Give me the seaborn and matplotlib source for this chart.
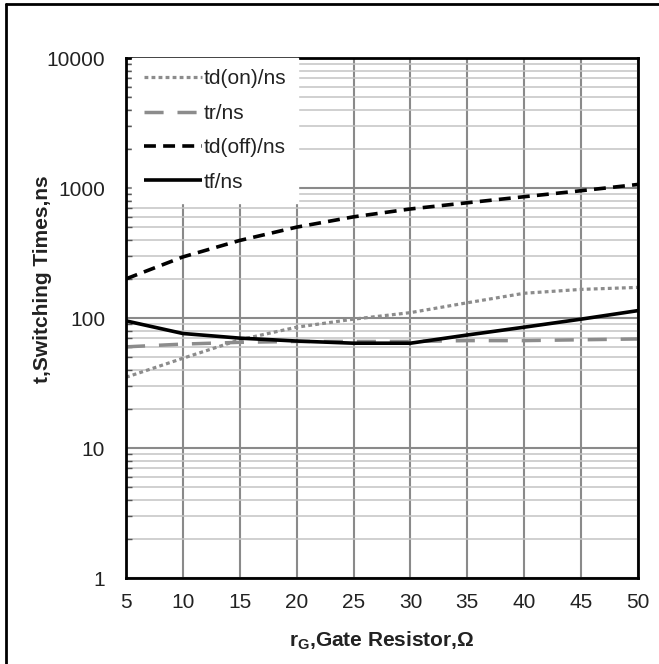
import numpy as np
import pandas as pd
import matplotlib
matplotlib.use("Agg")
import matplotlib.pyplot as plt
from matplotlib.lines import Line2D
from matplotlib.ticker import LogLocator, FixedLocator, NullFormatter
import seaborn as sns

# Switching times versus gate resistance
r_g = [5, 10, 15, 20, 25, 30, 35, 40, 45, 50]
td_on = [35, 49, 68, 85, 98, 110, 131, 155, 166, 172]
t_r = [60, 63, 65, 66, 66, 66, 67, 67, 68, 69]
td_off = [200, 295, 395, 500, 600, 690, 770, 857, 953, 1065]
t_f = [95, 76, 70, 66.5, 64, 64, 74, 85, 98, 114]

series_names = ["td(on)/ns", "tr/ns", "td(off)/ns", "tf/ns"]
series_values = [td_on, t_r, td_off, t_f]

x_ticks = [5, 10, 15, 20, 25, 30, 35, 40, 45, 50]
y_ticks = [1, 10, 100, 1000, 10000]
y_tick_labels = ["1", "10", "100", "1000", "10000"]

sns.set_style("white")
plt.rcParams["font.family"] = ["Liberation Sans", "DejaVu Sans"]
plt.rcParams["mathtext.fontset"] = "custom"
plt.rcParams["mathtext.rm"] = "Liberation Sans"
plt.rcParams["mathtext.bf"] = "Liberation Sans:bold"

fig = plt.figure(figsize=(6.59, 6.64), dpi=100)
ax = fig.add_axes([126 / 659, 1 - 578 / 664, 512 / 659, 520 / 664])

styles = [
    dict(color="#8c8c8c", lw=2.3, dashes=(1.2, 1.0)),
    dict(color="#8c8c8c", lw=2.5, dashes=(5.5, 4.0)),
    dict(color="black", lw=2.6, dashes=(3.3, 2.0)),
    dict(color="black", lw=2.6, dashes=None),
]

for name, vals, st in zip(series_names, series_values, styles):
    df = pd.DataFrame({"rG": r_g, "t": vals})
    line_kw = dict(color=st["color"], linewidth=st["lw"], label=name,
                   solid_capstyle="butt", dash_capstyle="butt",
                   solid_joinstyle="round")
    if st["dashes"] is not None:
        line_kw["linestyle"] = (0, st["dashes"])
    sns.lineplot(data=df, x="rG", y="t", ax=ax, **line_kw)

ax.set_yscale("log")
ax.set_xlim(5, 50)
ax.set_ylim(1, 10000)

ax.xaxis.set_major_locator(FixedLocator(x_ticks))
ax.yaxis.set_major_locator(FixedLocator(y_ticks))
ax.set_yticklabels(y_tick_labels)
ax.yaxis.set_minor_locator(LogLocator(base=10, subs=np.arange(2, 10), numticks=20))
ax.yaxis.set_minor_formatter(NullFormatter())

ax.grid(True, which="major", axis="x", color="#8a8a8a", linewidth=1.5)
ax.grid(True, which="major", axis="y", color="#8a8a8a", linewidth=1.5)
ax.grid(True, which="minor", axis="y", color="#c4c4c4", linewidth=1.1)

ax.tick_params(axis="both", which="major", labelsize=15, labelcolor="#222222")
ax.tick_params(axis="y", which="major", direction="in", length=0, pad=15)
ax.tick_params(axis="y", which="minor", direction="in", length=4, width=1, color="#555555", left=True)
ax.tick_params(axis="x", which="major", direction="in", length=0, pad=11)

for s in ax.spines.values():
    s.set_color("black")
    s.set_linewidth(2.0)

ax.set_xlabel(r"$\mathbf{r_G}$,Gate Resistor,Ω", fontsize=15, fontweight="bold", color="#222222")
ax.set_ylabel("t,Switching Times,ns", fontsize=15, fontweight="bold", color="#222222")
ax.xaxis.set_label_coords(0.5, -0.1)
ax.yaxis.set_label_coords(-0.145, 0.575)

leg = ax.legend(loc="upper left", bbox_to_anchor=(0.012, 1.0), borderaxespad=0,
                frameon=True, fancybox=False, fontsize=15, handlelength=2.8,
                handletextpad=0.1, labelspacing=0.74, borderpad=0.55)
leg.get_frame().set_facecolor("white")
leg.get_frame().set_edgecolor("white")
leg.get_frame().set_alpha(1.0)
for t in leg.get_texts():
    t.set_color("#222222")

# outer frame lines along the left and top of the figure
fig.add_artist(Line2D([6 / 659, 6 / 659], [0, 1 - 4 / 664], transform=fig.transFigure,
                      color="black", linewidth=2.0))
fig.add_artist(Line2D([6 / 659, 1], [1 - 4 / 664, 1 - 4 / 664], transform=fig.transFigure,
                      color="black", linewidth=2.0))

fig.savefig("out.png", dpi=100)
